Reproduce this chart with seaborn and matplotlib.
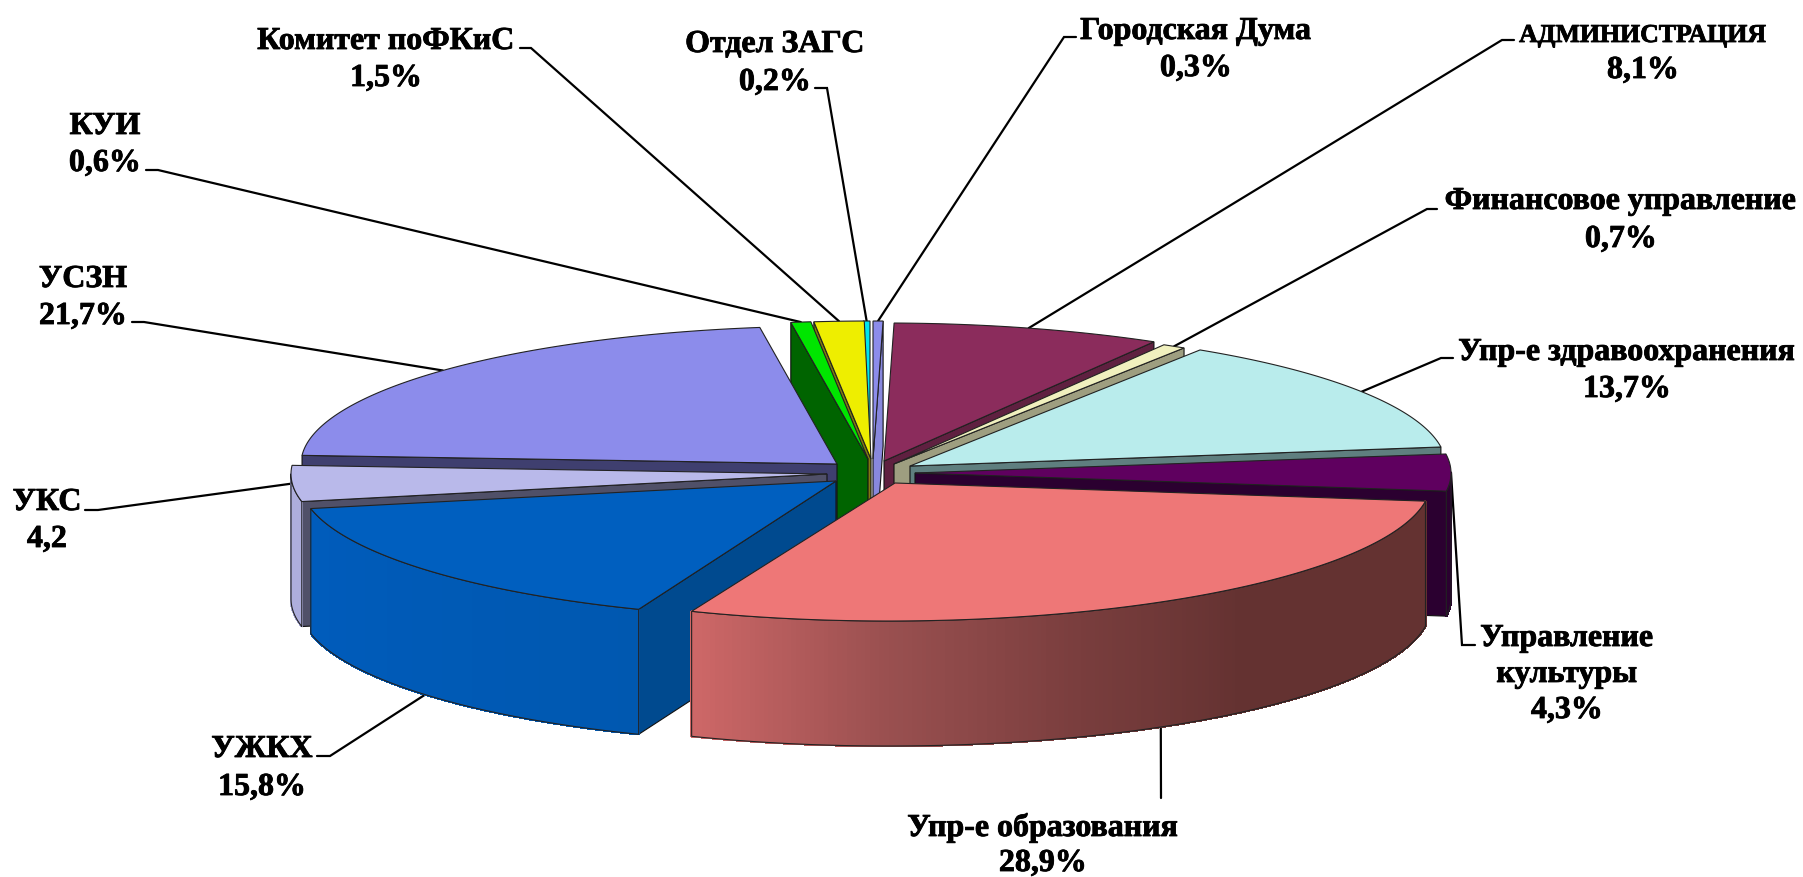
"""
Exploded pseudo-3D pie: budget share by department.
"""

import numpy as np
import matplotlib
matplotlib.use('Agg')
import matplotlib.pyplot as plt
import matplotlib.patheffects as pe
from matplotlib.patches import Polygon
import seaborn as sns

# data, clockwise from 12 o'clock
names = ['Городская Дума', 'АДМИНИСТРАЦИЯ', 'Финансовое управление',
         'Упр-е здравоохранения', 'Управление\nкультуры', 'Упр-е образования',
         'УЖКХ', 'УКС', 'УСЗН', 'КУИ', 'Комитет поФКиС', 'Отдел ЗАГС']
values = [0.3, 8.1, 0.7, 13.7, 4.3, 28.9, 15.8, 4.2, 21.7, 0.6, 1.5, 0.2]

# how far each slice is pulled out of the pie, pixels
explodeX = [5, 16, 26, 42, 47, 27, -32, -41, -31, 0, 3, 2]
explodeY = [0, 2, 5, 7, 14, 24, 22, 15, 5, 0, 0, 0]
# the big front slice leans a little to the left in the original
skewX = [0, 0, 0, 0, 0, -6.5, 0, 0, 0, 0, 0, 0]

topColors = ['#8C8CEB', '#8B2C5C', '#F0F0BE', '#B9ECEC', '#5F005F', '#EE7777',
             '#005FBF', '#B9B9EA', '#8C8CEB', '#00E600', '#EEEE00', '#00E5EE']
cutColors = ['#8888DD', '#5F2040', '#9E9E80', '#5F7F7F', '#2B0030', '#643231',
             '#004A8F', '#505068', '#3F3F6F', '#006400', '#7F7A10', '#007B7F']
# wall gradients run clockwise, so right side of the picture first
arcColors = [['#8C8CEB'], ['#5F2040'], ['#9E9E80'], ['#5F7F7F'], ['#2B0030'],
             ['#643231', '#643231', '#643231', '#7A3E3E', '#9A5050', '#CD6767'],
             ['#0058B0', '#005CBC'], ['#AEAEDD'], ['#3F3F6F'], ['#006400'],
             ['#7F7A10'], ['#007B7F']]

# back slices first, so the front ones cover them
drawOrder = [0, 11, 10, 9, 1, 2, 3, 4, 8, 7, 6, 5]

# label text: size, centre x, first baseline y, distance between lines
labelSize = [23, 18.6, 23, 23, 23, 23, 23, 23, 23, 23, 23, 23]
labelX = [1196, 1643, 1621, 1627, 1567, 1043, 262, 47, 83, 105, 386, 775]
labelY = [40, 43, 210, 361, 647, 837, 758, 511, 288, 135, 50, 53]
labelStep = [37, 36, 38, 37, 36, 35, 38, 37, 37, 37, 37, 38]
# short horizontal stub of each leader line
stubStart = [1076, 1514, 1437, 1453, 1475, 1161, 317, 85, 132, 146, 520, 815]
stubEnd = [1064, 1502, 1427, 1441, 1462, 1161, 330, 98, 144, 158, 531, 827]
stubY = [38, 41, 210, 359, 646, 799, 757, 511, 323, 171, 49, 89]

cx, cy = 868, 460
rx, ry = 536, 138
depth = 125


def arcPoint(i, th, z=0):
    a = np.radians(th)
    x = cx + explodeX[i] + rx * np.sin(a) - skewX[i] * np.cos(a)
    return (x, cy + explodeY[i] - ry * np.cos(a) + z)


def tipPoint(i, z=0):
    return (cx + explodeX[i], cy + explodeY[i] + z)


def drawCut(ax, i, th):
    pts = [tipPoint(i), arcPoint(i, th), arcPoint(i, th, depth), tipPoint(i, depth)]
    ax.add_patch(Polygon(pts, closed=True, facecolor=cutColors[i], edgecolor='#111111', lw=0.8))


def drawSlice(ax, i, th0, th1):
    s0, s1 = np.sin(np.radians(th0)), np.sin(np.radians(th1))
    # radial faces turned towards the viewer
    if s1 > 0:
        drawCut(ax, i, th1)
    if s0 < 0:
        drawCut(ax, i, th0)

    # outer wall, front half only
    lo, hi = max(th0, 90), min(th1, 270)
    if hi > lo:
        n = max(int(hi - lo) * 2, 2)
        edges = np.linspace(lo, hi, n + 1)
        if len(arcColors[i]) > 1:
            colors = sns.blend_palette(arcColors[i], n)
        else:
            colors = [arcColors[i][0]] * n
        for k in range(n):
            quad = [arcPoint(i, edges[k]), arcPoint(i, edges[k + 1]),
                    arcPoint(i, edges[k + 1], depth), arcPoint(i, edges[k], depth)]
            ax.add_patch(Polygon(quad, closed=True, facecolor=colors[k],
                                 edgecolor=colors[k], lw=1, antialiased=False))
        outline = [arcPoint(i, t) for t in edges] + [arcPoint(i, t, depth) for t in edges[::-1]]
        ax.add_patch(Polygon(outline, closed=True, fill=False, edgecolor='#222222', lw=0.8))

    # top face
    arc = np.linspace(th0, th1, max(int(th1 - th0) * 2, 2) + 1)
    pts = [tipPoint(i)] + [arcPoint(i, t) for t in arc]
    ax.add_patch(Polygon(pts, closed=True, facecolor=topColors[i], edgecolor='#222222', lw=0.8))


def run():
    sns.set_theme(style='white')
    plt.rcParams['font.family'] = ['Liberation Serif', 'DejaVu Serif']

    fig = plt.figure(figsize=(18.03, 8.78), dpi=100)
    ax = fig.add_axes([0, 0, 1, 1])
    ax.set_xlim(0, 1803)
    ax.set_ylim(878, 0)
    ax.axis('off')

    total = sum(values)
    bounds = np.concatenate([[0], np.cumsum(values)]) / total * 360

    # leader lines go under the pie
    for i in range(len(values)):
        mid = (bounds[i] + bounds[i + 1]) / 2
        z = depth if np.cos(np.radians(mid)) < -0.5 else 0
        end = arcPoint(i, mid, z)
        ax.plot([stubStart[i], stubEnd[i], end[0]], [stubY[i], stubY[i], end[1]],
                color='black', lw=1.6, zorder=0.5, solid_joinstyle='miter')

    for i in drawOrder:
        drawSlice(ax, i, bounds[i], bounds[i + 1])

    # the original text is heavier than plain bold
    heavy = [pe.withStroke(linewidth=0.6, foreground='black')]
    for i, name in enumerate(names):
        valueText = f'{values[i]:.1f}'.replace('.', ',')
        if name != 'УКС':
            valueText += '%'
        lines = name.split('\n') + [valueText]
        for k, line in enumerate(lines):
            # only the capitals of the one long name are set smaller
            size = labelSize[i] if k == 0 else 23
            ax.text(labelX[i], labelY[i] + k * labelStep[i], line, ha='center', va='baseline',
                    fontsize=size, fontweight='bold', color='black', zorder=5,
                    path_effects=heavy)

    fig.savefig('out.png', dpi=100, facecolor='white')


if __name__ == '__main__':
    run()
